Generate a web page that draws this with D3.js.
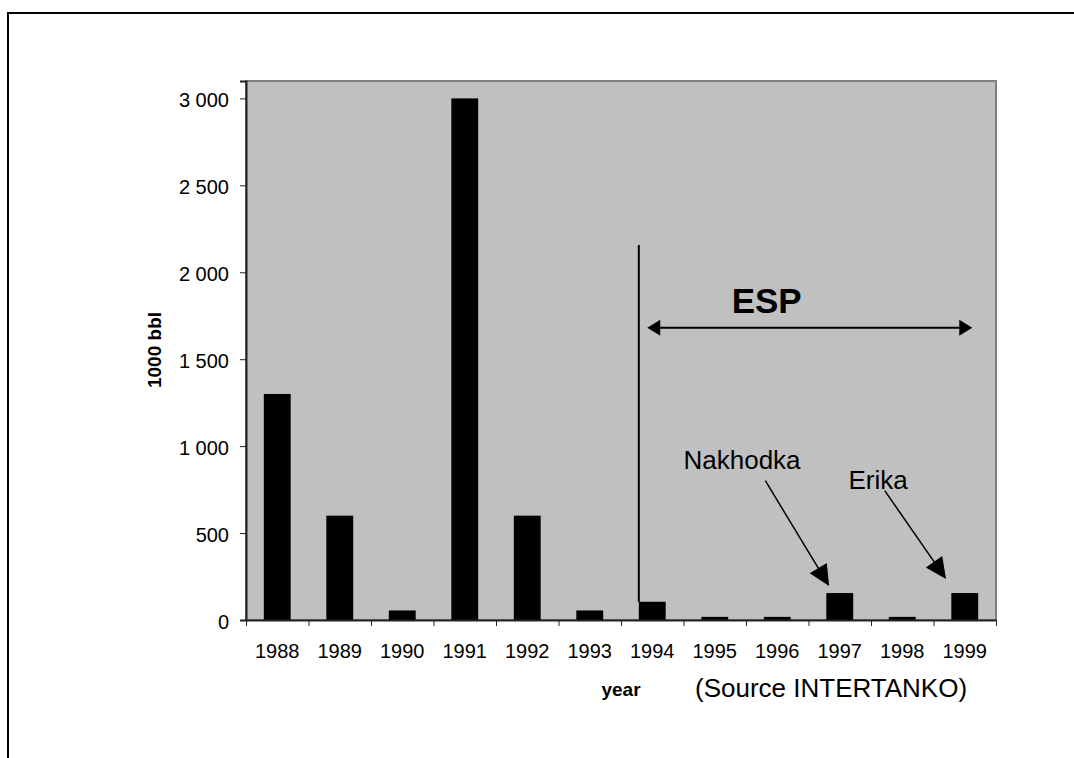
<!DOCTYPE html>
<html>
<head>
<meta charset="utf-8">
<script src="https://cdn.jsdelivr.net/npm/d3@7"></script>
<style>
  body { margin: 0; background: #fff; }
  text { font-family: "Liberation Sans", Arial, sans-serif; fill: #000; }
</style>
</head>
<body>
<div id="chart"></div>
<script>
// oil spilled per year (1000 bbl)
var years = ["1988", "1989", "1990", "1991", "1992", "1993", "1994", "1995", "1996", "1997", "1998", "1999"];
var spilled = [1300, 600, 55, 3000, 600, 55, 105, 18, 18, 155, 18, 155];
var yTicks = [0, 500, 1000, 1500, 2000, 2500, 3000];

var margin = {top: 81, right: 78, bottom: 138, left: 246},
	width = 1074 - margin.left - margin.right,
	height = 758 - margin.top - margin.bottom;

var fmt = d3.formatLocale({decimal: ",", thousands: " ", grouping: [3], currency: ["", ""]}).format(",d");

var svg = d3.select("#chart").append("svg")
	.attr("width", 1074)
	.attr("height", 758);

// outer chart frame (runs off the page right and bottom)
svg.append("rect")
	.attr("x", 8).attr("y", 13)
	.attr("width", 1100).attr("height", 800)
	.attr("fill", "none")
	.attr("stroke", "#000")
	.attr("stroke-width", 2);

var g = svg.append("g")
	.attr("transform", "translate(" + margin.left + "," + margin.top + ")");

var x = d3.scaleBand()
	.domain(years)
	.range([0, width])
	.paddingInner(0.57)
	.paddingOuter(0.285);
// continuous category position, used for ticks and annotations
var xc = d3.scaleLinear().domain([0, years.length]).range([0, width]);
var y = d3.scaleLinear()
	.domain([0, 3100])
	.range([height, 0]);

// plot area
g.append("rect")
	.attr("width", width)
	.attr("height", height)
	.attr("fill", "#c0c0c0")
	.attr("stroke", "#808080")
	.attr("stroke-width", 2);

g.selectAll(".bar")
	.data(spilled)
	.enter().append("rect")
	.attr("class", "bar")
	.attr("fill", "#000")
	.attr("x", function(d, i) { return x(years[i]); })
	.attr("width", x.bandwidth())
	.attr("y", function(d) { return y(d); })
	.attr("height", function(d) { return height - y(d); });

//y axis
var ya = g.append("g")
	.call(d3.axisLeft(y).tickValues(yTicks).tickSize(6).tickPadding(11).tickFormat(fmt));
ya.select(".domain").attr("stroke", "#222").attr("stroke-width", 2);
ya.selectAll("text").style("font-size", "20px").attr("dy", "0.4em");
ya.selectAll("line").attr("stroke", "#222");

//x axis: ticks between categories
var xa = g.append("g")
	.attr("transform", "translate(0," + height + ")")
	.call(d3.axisBottom(xc).tickValues(d3.range(years.length + 1)).tickSize(6).tickSizeOuter(0).tickFormat(""));
xa.select(".domain").attr("stroke", "#222").attr("stroke-width", 2);
xa.selectAll("line").attr("stroke", "#222");

g.selectAll(".xlab")
	.data(years)
	.enter().append("text")
	.attr("class", "xlab")
	.attr("x", function(d) { return x(d) + x.bandwidth() / 2; })
	.attr("y", height + 38)
	.style("font-size", "20px")
	.style("text-anchor", "middle")
	.text(function(d) { return d; });

// axis titles
svg.append("text")
	.attr("x", 621).attr("y", 696)
	.style("font-size", "19px").style("font-weight", "bold")
	.style("text-anchor", "middle")
	.text("year");
svg.append("text")
	.attr("x", 695).attr("y", 697)
	.style("font-size", "26px")
	.text("(Source INTERTANKO)");
svg.append("text")
	.attr("transform", "translate(161,350) rotate(-90)")
	.style("font-size", "19px").style("font-weight", "bold")
	.style("text-anchor", "middle")
	.text("1000 bbl");

// annotations
function head(x1, y1, x2, y2, len, half) {
	var a = Math.atan2(y2 - y1, x2 - x1),
		bx = x2 - len * Math.cos(a), by = y2 - len * Math.sin(a),
		px = -Math.sin(a) * half, py = Math.cos(a) * half;
	g.append("path")
		.attr("d", "M" + x2 + "," + y2 + "L" + (bx + px) + "," + (by + py) + "L" + (bx - px) + "," + (by - py) + "Z")
		.attr("fill", "#000");
}
function arrow(x1, y1, x2, y2, len, half) {
	var a = Math.atan2(y2 - y1, x2 - x1);
	g.append("line")
		.attr("x1", x1).attr("y1", y1)
		.attr("x2", x2 - len * 0.8 * Math.cos(a)).attr("y2", y2 - len * 0.8 * Math.sin(a))
		.attr("stroke", "#000").attr("stroke-width", 1.5);
	head(x1, y1, x2, y2, len, half);
}

// start of ESP line
g.append("line")
	.attr("x1", x("1994")).attr("x2", x("1994"))
	.attr("y1", y(2157)).attr("y2", y(spilled[6]))
	.attr("stroke", "#000").attr("stroke-width", 2);

// ESP double arrow
var ea = xc(6.42), eb = xc(11.62), ey = y(1681);
g.append("line")
	.attr("x1", ea + 8).attr("x2", eb - 8)
	.attr("y1", ey).attr("y2", ey)
	.attr("stroke", "#000").attr("stroke-width", 2);
head(eb, ey, ea, ey, 13, 8);
head(ea, ey, eb, ey, 13, 8);
g.append("text")
	.attr("x", xc(7.77)).attr("y", y(1767))
	.style("font-size", "35px").style("font-weight", "bold")
	.text("ESP");

g.append("text")
	.attr("x", xc(7.0)).attr("y", y(867))
	.style("font-size", "26px")
	.text("Nakhodka");
arrow(xc(8.31), y(801), xc(9.33), y(195), 21, 10);

g.append("text")
	.attr("x", xc(9.64)).attr("y", y(752))
	.style("font-size", "26px")
	.text("Erika");
arrow(xc(10.22), y(744), xc(11.2), y(236), 21, 10);
</script>
</body>
</html>
